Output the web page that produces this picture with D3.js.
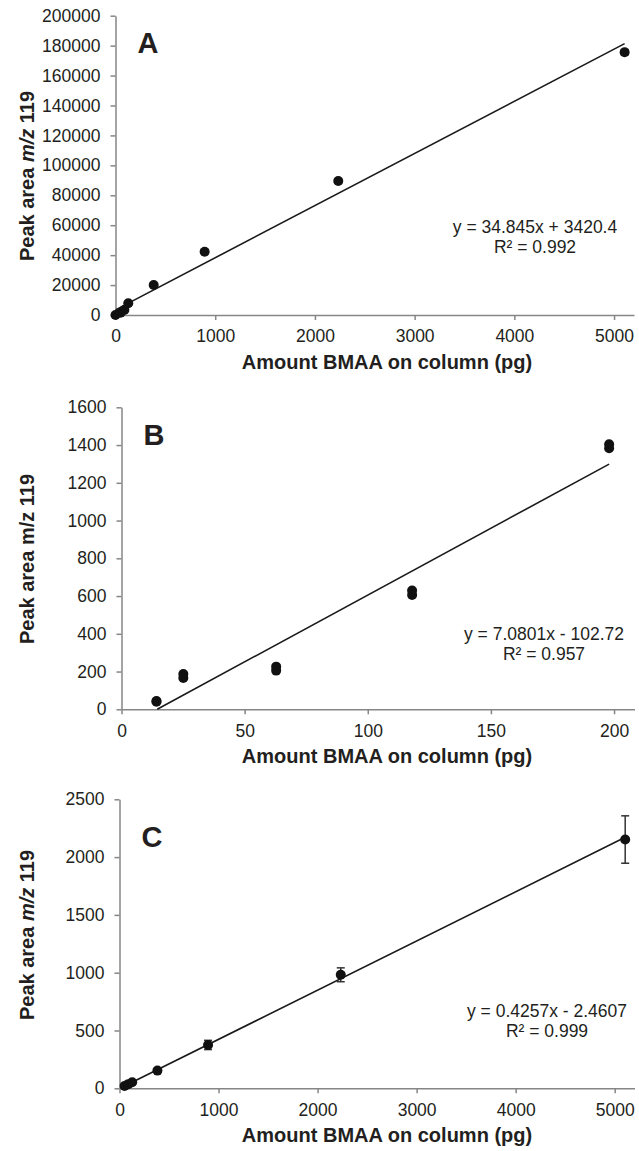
<!DOCTYPE html>
<html>
<head>
<meta charset="utf-8">
<script src="https://cdn.jsdelivr.net/npm/d3@7"></script>
<style>
  body { margin: 0; background: #fff; }
  svg text { font-family: "Liberation Sans", Arial, sans-serif; fill: #231f20; }
  .tick text { font-size: 17.5px; }
  .axis path, .axis line { stroke: #868686; stroke-width: 1.5; }
</style>
</head>
<body>
<script>
"use strict";

var width = 639,
    height = 1151;

// panel A
const aX = [0, 51, 89, 128, 383, 894, 2234, 5106];
const aY = [0, 1500, 3400, 7800, 20100, 42300, 89600, 175600];
const aErr = [0, 300, 400, 600, 900, 1200, 1500, 1800];
const aFit = [34.845, 3420.4];
const aXTicks = [0, 1000, 2000, 3000, 4000, 5000];
const aYTicks = [0, 20000, 40000, 60000, 80000, 100000, 120000, 140000, 160000, 180000, 200000];

// panel B (two replicates per amount)
const bX = [14.2, 25.1, 62.8, 118, 198];
const bY1 = [44, 187, 226, 629, 1404];
const bY2 = [40, 166, 205, 606, 1383];
const bFit = [7.0801, -102.72];
const bXTicks = [0, 50, 100, 150, 200];
const bYTicks = [0, 200, 400, 600, 800, 1000, 1200, 1400, 1600];

// panel C
const cX = [51, 89, 128, 383, 894, 2234, 5106];
const cY = [20, 36, 52, 153, 375, 982, 2152];
const cErr = [3, 4, 5, 15, 40, 60, 205];
const cFit = [0.4257, -2.4607];
const cXTicks = [0, 1000, 2000, 3000, 4000, 5000];
const cYTicks = [0, 500, 1000, 1500, 2000, 2500];

let svg = d3.select("body").append("svg")
    .attr("width", width)
    .attr("height", height);

function drawPanel(p) {
    let g = svg.append("g").attr("id", "panel" + p.letter);

    let x = d3.scaleLinear().domain(p.xDomain).range([p.left, p.right]);
    let y = d3.scaleLinear().domain(p.yDomain).range([p.bottom, p.top]);

    g.append("g")
        .attr("class", "axis")
        .attr("transform", "translate(0," + p.bottom + ")")
        .call(d3.axisBottom(x).tickValues(p.xTicks).tickSize(5).tickSizeOuter(0).tickPadding(10).tickFormat(d3.format("d")));

    g.append("g")
        .attr("class", "axis")
        .attr("transform", "translate(" + p.left + ",0)")
        .call(d3.axisLeft(y).tickValues(p.yTicks).tickSize(5).tickSizeOuter(0).tickPadding(10).tickFormat(d3.format("d")));

    // trend line over the data range
    let x0 = d3.min(p.pts, d => d.x), x1 = d3.max(p.pts, d => d.x);
    if (p.fit[1] < 0) x0 = Math.max(x0, -p.fit[1] / p.fit[0]);
    g.append("line")
        .attr("x1", x(x0)).attr("y1", y(p.fit[0] * x0 + p.fit[1]))
        .attr("x2", x(x1)).attr("y2", y(p.fit[0] * x1 + p.fit[1]))
        .attr("stroke", "#1a1a1a")
        .attr("stroke-width", 1.6);

    // error bars
    let eb = g.selectAll(".err")
        .data(p.pts.filter(d => d.e > 0))
        .enter().append("g").attr("class", "err")
        .attr("stroke", "#333").attr("stroke-width", 1.5);
    eb.append("line")
        .attr("x1", d => x(d.x)).attr("x2", d => x(d.x))
        .attr("y1", d => y(d.y - d.e)).attr("y2", d => y(d.y + d.e));
    eb.append("line")
        .attr("x1", d => x(d.x) - 4).attr("x2", d => x(d.x) + 4)
        .attr("y1", d => y(d.y - d.e)).attr("y2", d => y(d.y - d.e));
    eb.append("line")
        .attr("x1", d => x(d.x) - 4).attr("x2", d => x(d.x) + 4)
        .attr("y1", d => y(d.y + d.e)).attr("y2", d => y(d.y + d.e));

    g.selectAll(".dot")
        .data(p.pts)
        .enter().append("circle")
        .attr("class", "dot")
        .attr("cx", d => x(d.x))
        .attr("cy", d => y(d.y))
        .attr("r", 5)
        .attr("fill", "#111");

    // panel letter
    g.append("text")
        .attr("x", p.left + 22).attr("y", p.letterY)
        .attr("font-size", 29).attr("font-weight", "bold")
        .text(p.letter);

    // equation
    g.append("text")
        .attr("x", p.eqX).attr("y", p.eqY)
        .attr("text-anchor", "middle").attr("font-size", 17.5)
        .text(p.eq);
    g.append("text")
        .attr("x", p.eqX).attr("y", p.eqY + 20)
        .attr("text-anchor", "middle").attr("font-size", 17.5)
        .text(p.r2);

    // axis titles
    g.append("text")
        .attr("x", 387).attr("y", p.bottom + 54)
        .attr("text-anchor", "middle")
        .attr("font-size", 20).attr("font-weight", "bold")
        .text("Amount BMAA on column (pg)");

    let yt = g.append("text")
        .attr("transform", "translate(34," + p.yTitleY + ") rotate(-90)")
        .attr("text-anchor", "middle")
        .attr("font-size", 20).attr("font-weight", "bold");
    yt.append("tspan").text("Peak area ");
    yt.append("tspan").attr("font-style", p.italic ? "italic" : "normal").text("m/z");
    yt.append("tspan").text(" 119");
}

drawPanel({
    letter: "A",
    left: 115.5, right: 634, top: 15.7, bottom: 315,
    xDomain: [0, 5200], yDomain: [0, 200000],
    xTicks: aXTicks, yTicks: aYTicks,
    pts: aX.map((v, i) => ({ x: v, y: aY[i], e: aErr[i] })),
    fit: aFit,
    letterY: 53,
    eq: "y = 34.845x + 3420.4", r2: "R² = 0.992",
    eqX: 535, eqY: 233,
    yTitleY: 176, italic: true
});

drawPanel({
    letter: "B",
    left: 121.5, right: 634.5, top: 407.3, bottom: 709.3,
    xDomain: [0, 208.3], yDomain: [0, 1600],
    xTicks: bXTicks, yTicks: bYTicks,
    pts: bX.map((v, i) => ({ x: v, y: bY1[i], e: 0 }))
        .concat(bX.map((v, i) => ({ x: v, y: bY2[i], e: 0 }))),
    fit: bFit,
    letterY: 445,
    eq: "y = 7.0801x - 102.72", r2: "R² = 0.957",
    eqX: 544, eqY: 640,
    yTitleY: 559, italic: false
});

drawPanel({
    letter: "C",
    left: 119.5, right: 634.5, top: 799.3, bottom: 1088.3,
    xDomain: [0, 5200], yDomain: [0, 2500],
    xTicks: cXTicks, yTicks: cYTicks,
    pts: cX.map((v, i) => ({ x: v, y: cY[i], e: cErr[i] })),
    fit: cFit,
    letterY: 847,
    eq: "y = 0.4257x - 2.4607", r2: "R² = 0.999",
    eqX: 547, eqY: 1017,
    yTitleY: 935, italic: true
});
</script>
</body>
</html>
